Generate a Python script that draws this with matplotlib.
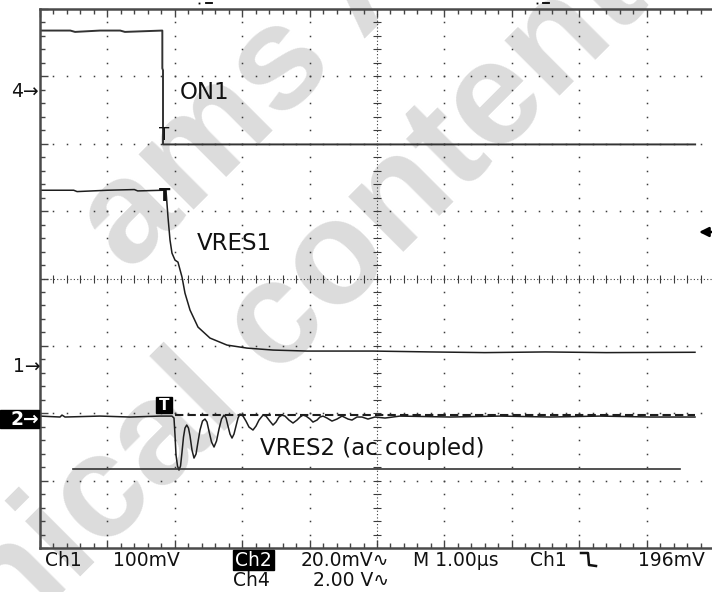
import numpy as np
import matplotlib
matplotlib.use('Agg')
import matplotlib.pyplot as plt
from matplotlib.ticker import MultipleLocator

# time axis in us (1.00 us/div), levels in screen divisions (0 = bottom edge)
on1_t = [0, 0.45, 0.52, 0.89, 1.19, 1.26, 1.815, 1.815, 1.825, 1.825, 1.855, 9.72]
on1_v = [7.68, 7.68, 7.66, 7.68, 7.68, 7.66, 7.68, 7.12, 7.09, 5.99, 5.99, 5.99]

vres1_t = [0, 0.5, 0.55, 1.0, 1.4, 1.45, 1.825, 1.869, 1.899, 1.929, 1.958, 2.003, 2.047,
           2.107, 2.151, 2.226, 2.344, 2.522, 2.774, 3.071, 3.457, 3.961, 4.941, 5.8,
           6.6, 7.5, 8.4, 9.718]
vres1_v = [5.31, 5.31, 5.29, 5.31, 5.32, 5.30, 5.31, 5.312, 4.911, 4.570, 4.377, 4.273, 4.243,
           4.021, 3.783, 3.531, 3.279, 3.116, 3.012, 2.967, 2.938, 2.923, 2.923, 2.91,
           2.90, 2.91, 2.90, 2.905]

vres2_t = [0, 0.297, 0.326, 0.371, 0.890, 1.335, 1.780, 1.958,
           1.988, 2.003, 2.018, 2.040, 2.062, 2.085, 2.107, 2.129, 2.151, 2.177, 2.203,
           2.226, 2.255, 2.285, 2.315, 2.344, 2.374, 2.411, 2.448, 2.478, 2.507, 2.545,
           2.582, 2.619, 2.656, 2.693, 2.730, 2.760, 2.789, 2.819, 2.849, 2.878, 2.908,
           2.938, 2.967, 3.012, 3.056, 3.101, 3.160, 3.205, 3.249, 3.309, 3.353, 3.398,
           3.457, 3.501, 3.546, 3.591, 3.635, 3.694, 3.754, 3.813, 3.858, 3.902, 3.947,
           4.006, 4.050, 4.110, 4.154, 4.199, 4.258, 4.332, 4.407, 4.481, 4.570, 4.629,
           4.703, 4.777, 4.866, 4.970, 5.119, 5.341, 6.083, 6.825, 7.567, 8.309, 9.050, 9.718]
vres2_v = [1.958, 1.944, 1.973, 1.944, 1.958, 1.944, 1.958, 1.958,
           1.929, 1.677, 1.380, 1.217, 1.157, 1.217, 1.424, 1.647, 1.780, 1.825, 1.780,
           1.662, 1.454, 1.335, 1.395, 1.573, 1.751, 1.884, 1.914, 1.869, 1.736, 1.573,
           1.499, 1.588, 1.766, 1.914, 1.973, 1.929, 1.810, 1.691, 1.632, 1.691, 1.810,
           1.929, 1.988, 1.958, 1.884, 1.795, 1.751, 1.810, 1.899, 1.973, 1.958, 1.899,
           1.825, 1.869, 1.944, 1.973, 1.958, 1.899, 1.855, 1.899, 1.944, 1.973, 1.958,
           1.914, 1.869, 1.899, 1.944, 1.958, 1.929, 1.884, 1.914, 1.958, 1.914, 1.899,
           1.944, 1.944, 1.914, 1.944, 1.929, 1.958, 1.944, 1.958, 1.944, 1.958, 1.944, 1.944]

# dashed ac reference on ch2 and the cursor line at the undershoot minimum
ref2_t = [2.00, 9.72]
ref2_v = [1.975, 1.975]
cursor_t = [0.49, 9.50]
cursor_v = [1.172, 1.172]

W, H = 712, 592
fig = plt.figure(figsize=(W / 100, H / 100), dpi=100)

# background layer: watermark, pixel coordinates
bg = fig.add_axes([0, 0, 1, 1], zorder=0)
bg.set_xlim(0, W)
bg.set_ylim(H, 0)
bg.axis('off')
wm = dict(fontsize=106, family='Liberation Sans', weight='bold', color='#dcdcdc',
          rotation=45, rotation_mode='anchor', ha='left', va='baseline')
bg.text(129, 274, 'ams AG', **wm)
bg.text(-205, 860, 'technical content', **wm)

# scope screen: 10 x 8 divisions
ax = fig.add_axes([40 / W, 44 / H, 674 / W, 539 / H], zorder=1)
ax.patch.set_alpha(0)
ax.set_xlim(0, 10)
ax.set_ylim(0, 8)

gc = '#3c3c3c'
ys = np.arange(0, 8.001, 0.2)
xs = np.arange(0, 10.001, 0.2)
for gx in range(1, 10):
    if gx == 5:
        continue
    ax.plot(np.full_like(ys, gx), ys, ls='none', marker='s', ms=1.1, mew=0, color=gc)
for gy in range(1, 8):
    if gy == 4:
        continue
    ax.plot(xs, np.full_like(xs, gy), ls='none', marker='s', ms=1.1, mew=0, color=gc)
# centre cross with fine dots and small ticks
ax.axvline(5, ls=(0, (1, 2)), lw=0.8, color=gc)
ax.axhline(4, ls=(0, (1, 2)), lw=0.8, color=gc)
ax.plot(xs, np.full_like(xs, 4), ls='none', marker='|', ms=5.5, mew=0.8, color=gc)
ax.plot(np.full_like(ys, 5), ys, ls='none', marker='_', ms=5.5, mew=0.8, color=gc)

ax.xaxis.set_major_locator(MultipleLocator(1))
ax.xaxis.set_minor_locator(MultipleLocator(0.2))
ax.yaxis.set_major_locator(MultipleLocator(1))
ax.yaxis.set_minor_locator(MultipleLocator(0.2))
ax.tick_params(which='both', direction='in', top=True, bottom=True, left=True, right=False,
               labelbottom=False, labelleft=False, color='#444', width=1)
ax.tick_params(which='major', length=6)
ax.tick_params(which='minor', length=3.5)
for side in ['left', 'top', 'bottom']:
    ax.spines[side].set_color('#4a4a4a')
    ax.spines[side].set_linewidth(1.8)
ax.spines['right'].set_visible(False)

tc = '#1e1e1e'
ax.plot(on1_t, on1_v, color='#333333', lw=1.4)
ax.plot(vres1_t, vres1_v, color=tc, lw=1.1)
ax.plot(vres2_t, vres2_v, color=tc, lw=1.1)
ax.plot(ref2_t, ref2_v, color=tc, lw=1.5, ls=(0, (4, 2)))
ax.plot(cursor_t, cursor_v, color='#333333', lw=1.2)

# overlay layer: labels, markers, readouts
ov = fig.add_axes([0, 0, 1, 1], zorder=2)
ov.set_xlim(0, W)
ov.set_ylim(H, 0)
ov.axis('off')

lab = dict(fontsize=16.5, family='DejaVu Sans', color='#111111', va='baseline', ha='left')
ov.text(180, 99, 'ON1', **lab)
ov.text(197, 250, 'VRES1', **lab)
ov.text(260, 455, 'VRES2 (ac coupled)', **lab)

# trigger markers
ov.text(164, 135, 'T', fontsize=12, color='#111111', ha='center', va='center')
ov.text(165, 196, 'T', fontsize=12, weight='bold', color='#111111', ha='center', va='center')
ov.add_patch(plt.Rectangle((156, 397), 16, 16, color='black'))
ov.text(164, 406, 'T', fontsize=11, weight='bold', color='white', ha='center', va='center')

# channel ground markers
mk = dict(fontsize=13.5, family='DejaVu Sans', va='baseline', ha='left')
ov.text(11, 97, '4\u2192', color='#111111', **mk)
ov.text(13, 372, '1\u2192', color='#111111', **mk)
ov.add_patch(plt.Rectangle((0, 410), 39, 18, color='black'))
ov.text(11, 425, '2\u2192', color='white', weight='bold', **mk)
# trigger level arrow at the right edge
ov.annotate('', xy=(699, 232), xytext=(713, 232),
            arrowprops=dict(arrowstyle='-|>', color='black', lw=1.8, mutation_scale=14,
                            shrinkA=0, shrinkB=0))

# top position markers
ov.plot([199, 537], [3, 3], ls='none', marker='s', ms=1.3, mew=0, color='black')
ov.plot([206, 212], [3, 3], color='black', lw=1.3)
ov.plot([543, 549], [3, 3], color='black', lw=1.3)

# readout line
rd = dict(fontsize=13.5, family='DejaVu Sans', color='#111111', va='baseline')
ov.text(45, 566, 'Ch1', ha='left', **rd)
ov.text(113, 566, '100mV', ha='left', **rd)
ov.add_patch(plt.Rectangle((233, 550), 41, 20, color='black'))
ov.text(235, 566, 'Ch2', ha='left', fontsize=13.5, family='DejaVu Sans', color='white',
        va='baseline')
ov.text(389, 566, '20.0mV\u223f', ha='right', **rd)
ov.text(233, 586, 'Ch4', ha='left', **rd)
ov.text(389, 586, '2.00 V\u223f', ha='right', **rd)
ov.text(413, 566, 'M 1.00\u00b5s', ha='left', **rd)
ov.text(530, 566, 'Ch1', ha='left', **rd)
ov.plot([581, 588, 589, 596], [553, 553, 565, 566], color='#111111', lw=1.8)
ov.text(705, 566, '196mV', ha='right', **rd)

fig.savefig('out.png', dpi=100)
